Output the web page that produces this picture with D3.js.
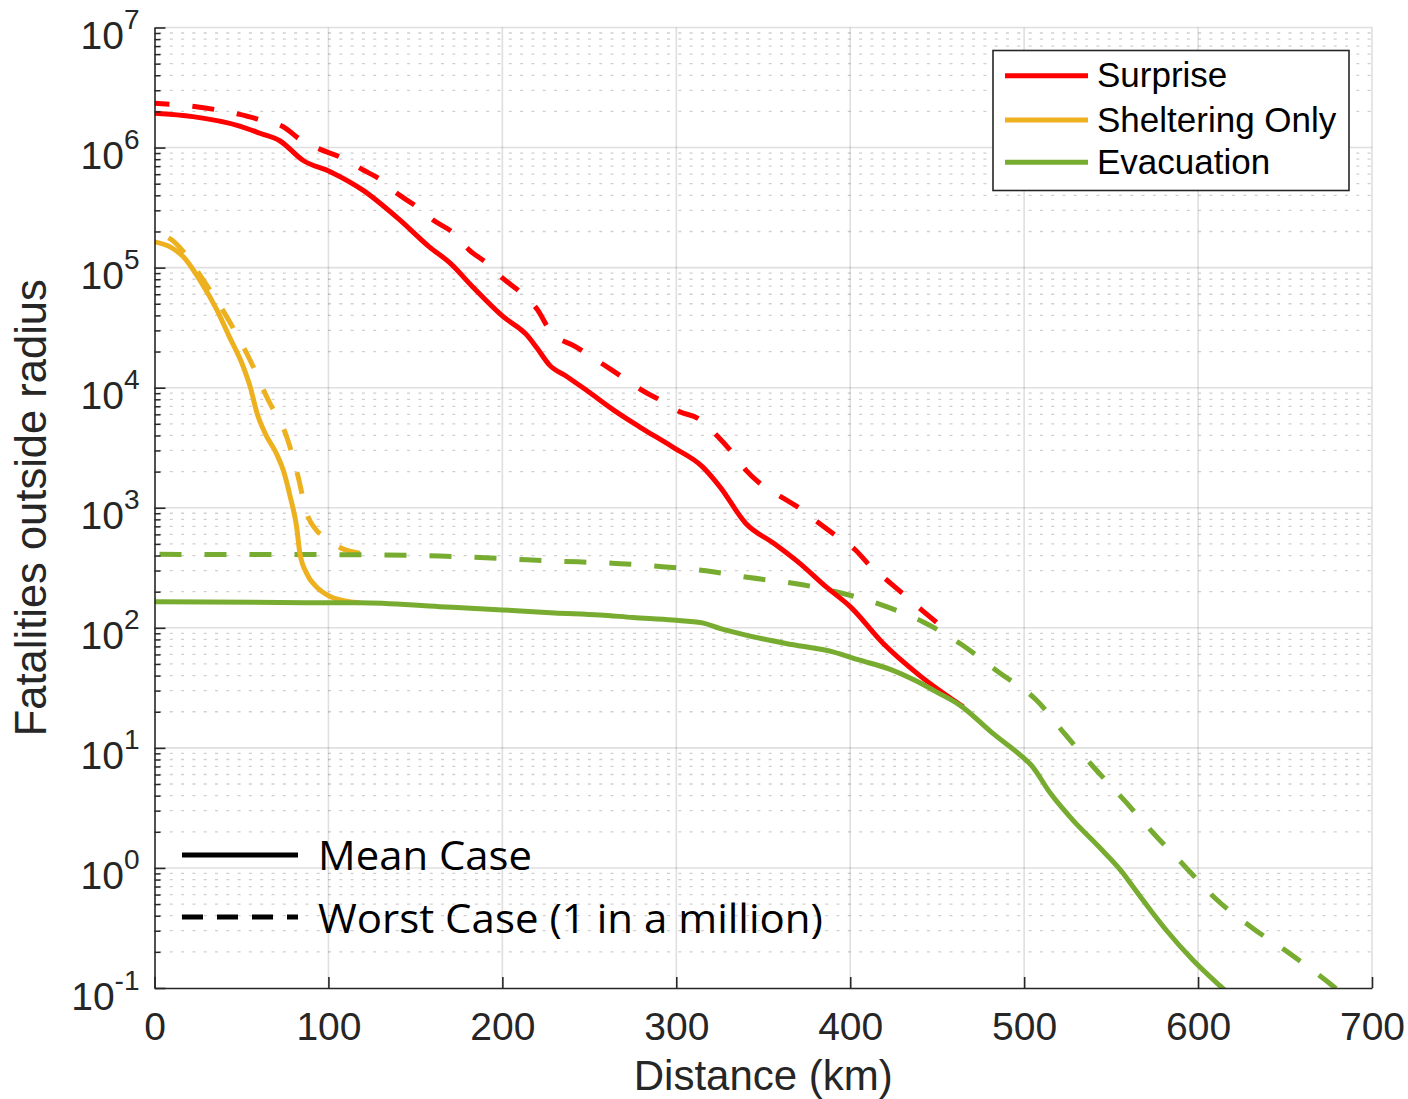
<!DOCTYPE html>
<html>
<head>
<meta charset="utf-8">
<script src="https://cdn.jsdelivr.net/npm/d3@7"></script>
<style>
  html, body { margin: 0; padding: 0; background: #fff; }
  svg { display: block; }
</style>
</head>
<body>
<svg id="chart" width="1408" height="1099"></svg>
<script>
// ---- data: distance (km) and fatalities outside that radius ----
const xTicks = [0, 100, 200, 300, 400, 500, 600, 700];
const yTicks = [1e-1, 1e0, 1e1, 1e2, 1e3, 1e4, 1e5, 1e6, 1e7];
const yTickExponents = ["-1", "0", "1", "2", "3", "4", "5", "6", "7"];

const seriesNames = ["Surprise", "Sheltering Only", "Evacuation"];
const seriesColors = ["#ff0000", "#edb120", "#77ac30"];

// Surprise, mean case
const surpriseMeanKm  = [0, 22, 49, 61, 72, 85.5, 101, 120, 141, 158, 170, 183, 200.5, 214, 220, 227, 237, 248, 264, 279, 298, 315, 325, 340, 356, 371, 386, 400, 419, 440, 465];
const surpriseMeanVal = [1.93e6, 1.81e6, 1.51e6, 1.31e6, 1.14e6, 7.8e5, 6.3e5, 4.4e5, 2.5e5, 1.49e5, 1.09e5, 6.9e4, 3.9e4, 2.75e4, 2.13e4, 1.55e4, 1.24e4, 9.6e3, 6.5e3, 4.7e3, 3.2e3, 2.2e3, 1.5e3, 740, 506, 344, 220, 150, 74, 40, 22];

// Surprise, worst case (1 in a million)
const surpriseWorstKm  = [0, 24, 36, 49, 61, 74, 84, 95, 107, 120, 130, 139, 151, 160, 172, 181, 191, 200.5, 210, 220, 228, 242, 263, 282, 290, 302, 313, 324, 332, 340, 348, 360, 371, 381, 392, 403, 411, 421, 430, 441, 450];
const surpriseWorstVal = [2.34e6, 2.19e6, 2.06e6, 1.89e6, 1.70e6, 1.49e6, 1.16e6, 9.7e5, 8.3e5, 6.5e5, 5.4e5, 4.2e5, 3.2e5, 2.5e5, 1.93e5, 1.40e5, 1.09e5, 8.1e4, 6.3e4, 4.5e4, 2.9e4, 2.2e4, 1.40e4, 9.2e3, 8.0e3, 6.3e3, 5.5e3, 3.9e3, 2.9e3, 2.06e3, 1.6e3, 1.24e3, 990, 766, 582, 445, 333, 250, 194, 141, 110];

// Sheltering only, mean case
const shelterMeanKm  = [0, 9, 16.6, 26, 36, 43, 51, 55, 59, 63.5, 70, 74, 78, 81.7, 83.6, 87.5, 93, 101, 112, 118];
const shelterMeanVal = [1.64e5, 1.49e5, 1.23e5, 7.9e4, 4.4e4, 2.66e4, 1.50e4, 1.02e4, 6.1e3, 4.2e3, 2.84e3, 2.06e3, 1.24e3, 695, 417, 284, 220, 182, 165, 162];

// Sheltering only, worst case
const shelterWorstKm  = [8, 10, 16.6, 28, 41.5, 54, 65.4, 76, 82.6, 87.5, 93, 96, 107.6, 120];
const shelterWorstVal = [1.77e5, 1.70e5, 1.36e5, 7.9e4, 3.9e4, 1.81e4, 7.9e3, 3.9e3, 1.81e3, 900, 653, 593, 459, 415];

// Evacuation, mean case
const evacMeanKm  = [0, 100, 118, 164, 200, 230, 256, 275, 298, 315, 325, 340, 363, 390, 405, 423, 438, 450, 463, 482, 499, 504, 515, 528, 543, 557, 562.5, 574, 582, 597, 613, 616];
const evacMeanVal = [165, 162, 162, 150, 141, 133, 128, 122, 116, 110, 99, 87, 74, 63, 54, 45, 36, 29, 22.7, 13.2, 8.4, 7.2, 4.2, 2.5, 1.50, 0.90, 0.70, 0.42, 0.30, 0.171, 0.103, 0.094];

// Evacuation, worst case
const evacWorstKm  = [0, 100, 164, 200, 230, 265, 292, 317, 342, 368, 393, 418, 442, 464, 485, 507, 523.5, 540, 558, 575, 593, 610, 631, 652, 673, 680];
const evacWorstVal = [409, 407, 396, 377, 360, 344, 323, 299, 262, 234, 198, 155, 112, 72.6, 43, 25, 13.0, 6.9, 3.6, 1.90, 1.01, 0.556, 0.318, 0.197, 0.117, 0.097];

const caseLabels = ["Mean Case", "Worst Case (1 in a million)"];

// ---- layout ----
const svg = d3.select("#chart");
const plot = { left: 154.5, right: 1372, top: 27.5, bottom: 988 };
const axisColor = "#262626";
const tickFont = "'Liberation Sans', Arial, Helvetica, sans-serif";

const x = d3.scaleLinear().domain([0, 700]).range([plot.left, plot.right]);
const y = d3.scaleLog().domain([1e-1, 1e7]).range([plot.bottom, plot.top]);

const minorTicks = [];
for (let e = -1; e < 7; e++) {
  for (let m = 2; m <= 9; m++) minorTicks.push(m * Math.pow(10, e));
}

// ---- grid ----
const grid = svg.append("g");
grid.selectAll("line.minor")
  .data(minorTicks).join("line")
  .attr("x1", plot.left + 4).attr("x2", plot.right)
  .attr("y1", d => y(d)).attr("y2", d => y(d))
  .attr("stroke", "rgba(38,38,38,0.22)")
  .attr("stroke-width", 1.3)
  .attr("stroke-dasharray", "3,8.3");
grid.selectAll("line.majorY")
  .data(yTicks.slice(1)).join("line")
  .attr("x1", plot.left).attr("x2", plot.right)
  .attr("y1", d => y(d)).attr("y2", d => y(d))
  .attr("stroke", "rgba(38,38,38,0.15)")
  .attr("stroke-width", 1.6);
grid.selectAll("line.majorX")
  .data(xTicks.slice(1)).join("line")
  .attr("x1", d => x(d)).attr("x2", d => x(d))
  .attr("y1", plot.top).attr("y2", plot.bottom)
  .attr("stroke", "rgba(38,38,38,0.15)")
  .attr("stroke-width", 1.6);

// ---- series ----
svg.append("defs").append("clipPath").attr("id", "plotClip")
  .append("rect")
  .attr("x", plot.left).attr("y", plot.top)
  .attr("width", plot.right - plot.left).attr("height", plot.bottom - plot.top);

const line = d3.line()
  .x(d => x(d[0]))
  .y(d => y(d[1]))
  .curve(d3.curveMonotoneX);

const zipPts = (a, b) => a.map((v, i) => [v, b[i]]);

const series = [
  { pts: zipPts(surpriseWorstKm, surpriseWorstVal), color: seriesColors[0], dashed: true, offset: 7 },
  { pts: zipPts(shelterWorstKm, shelterWorstVal),   color: seriesColors[1], dashed: true, offset: 0 },
  { pts: zipPts(evacWorstKm, evacWorstVal),         color: seriesColors[2], dashed: true, offset: 40 },
  { pts: zipPts(surpriseMeanKm, surpriseMeanVal),   color: seriesColors[0], dashed: false },
  { pts: zipPts(shelterMeanKm, shelterMeanVal),     color: seriesColors[1], dashed: false },
  { pts: zipPts(evacMeanKm, evacMeanVal),           color: seriesColors[2], dashed: false }
];

const lines = svg.append("g").attr("clip-path", "url(#plotClip)");
series.forEach(s => {
  lines.append("path")
    .datum(s.pts)
    .attr("d", line)
    .attr("fill", "none")
    .attr("stroke", s.color)
    .attr("stroke-width", 5)
    .attr("stroke-linejoin", "round")
    .attr("stroke-dasharray", s.dashed ? "22,23" : null)
    .attr("stroke-dashoffset", s.dashed ? s.offset : null);
});

// ---- axes ----
const xAxis = d3.axisBottom(x)
  .tickValues(xTicks)
  .tickSizeInner(-11)
  .tickSizeOuter(0)
  .tickFormat(d3.format("d"));
const gx = svg.append("g")
  .attr("transform", `translate(0,${plot.bottom})`)
  .call(xAxis);
gx.select(".domain").attr("stroke", axisColor).attr("stroke-width", 1.6);
gx.selectAll(".tick line").attr("stroke", axisColor).attr("stroke-width", 1.6);
gx.selectAll(".tick text")
  .attr("y", 52).attr("dy", 0)
  .attr("fill", axisColor)
  .style("font-family", tickFont)
  .style("font-size", "39px");

const yMinorAxis = d3.axisLeft(y)
  .tickValues(minorTicks)
  .tickSizeInner(-6)
  .tickSizeOuter(0)
  .tickFormat("");
const gyMinor = svg.append("g")
  .attr("transform", `translate(${plot.left},0)`)
  .call(yMinorAxis);
gyMinor.select(".domain").remove();
gyMinor.selectAll(".tick line").attr("stroke", axisColor).attr("stroke-width", 1.5);

const yAxis = d3.axisLeft(y)
  .tickValues(yTicks)
  .tickSizeInner(-11)
  .tickSizeOuter(0)
  .tickPadding(15)
  .tickFormat("");
const gy = svg.append("g")
  .attr("transform", `translate(${plot.left},0)`)
  .call(yAxis);
gy.select(".domain").attr("stroke", axisColor).attr("stroke-width", 1.6);
gy.selectAll(".tick line").attr("stroke", axisColor).attr("stroke-width", 1.6);
gy.selectAll(".tick text")
  .attr("dy", 0).attr("y", 21)
  .attr("fill", axisColor)
  .style("font-family", tickFont)
  .style("font-size", "39px")
  .each(function(d, i) {
    const t = d3.select(this);
    t.text(null);
    t.append("tspan").text("10");
    t.append("tspan").attr("dy", -20).style("font-size", "28px").text(yTickExponents[i]);
  });

// ---- axis titles ----
svg.append("text")
  .attr("x", (plot.left + plot.right) / 2)
  .attr("y", 1090)
  .attr("text-anchor", "middle")
  .attr("fill", axisColor)
  .style("font-family", tickFont)
  .style("font-size", "42px")
  .text("Distance (km)");

svg.append("text")
  .attr("transform", `translate(46,${(plot.top + plot.bottom) / 2}) rotate(-90)`)
  .attr("text-anchor", "middle")
  .attr("fill", axisColor)
  .style("font-family", tickFont)
  .style("font-size", "43.5px")
  .text("Fatalities outside radius");

// ---- scenario legend ----
const legend = svg.append("g");
legend.append("rect")
  .attr("x", 993).attr("y", 50.5)
  .attr("width", 356).attr("height", 140)
  .attr("fill", "#fff")
  .attr("stroke", axisColor)
  .attr("stroke-width", 1.6);
const legendRowY = [75.7, 120, 162.3];
seriesNames.forEach((name, i) => {
  legend.append("line")
    .attr("x1", 1005).attr("x2", 1088)
    .attr("y1", legendRowY[i]).attr("y2", legendRowY[i])
    .attr("stroke", seriesColors[i])
    .attr("stroke-width", 5);
  legend.append("text")
    .attr("x", 1097).attr("y", legendRowY[i] + 11.5)
    .attr("fill", "#000")
    .style("font-family", tickFont)
    .style("font-size", "35px")
    .text(name);
});

// ---- line-style key ----
const key = svg.append("g");
const keyRows = [
  { y: 855, dash: null, textY: 870, len: 214 },
  { y: 917, dash: "21,14", textY: 933, len: 505 }
];
keyRows.forEach((r, i) => {
  key.append("line")
    .attr("x1", 182).attr("x2", 298)
    .attr("y1", r.y).attr("y2", r.y)
    .attr("stroke", "#000")
    .attr("stroke-width", 5)
    .attr("stroke-dasharray", r.dash);
  key.append("text")
    .attr("x", 318).attr("y", r.textY)
    .attr("fill", "#000")
    .attr("textLength", r.len)
    .attr("lengthAdjust", "spacingAndGlyphs")
    .style("font-family", "'Open Sans', 'Noto Sans', sans-serif")
    .style("font-size", "41px")
    .text(caseLabels[i]);
});
</script>
</body>
</html>
